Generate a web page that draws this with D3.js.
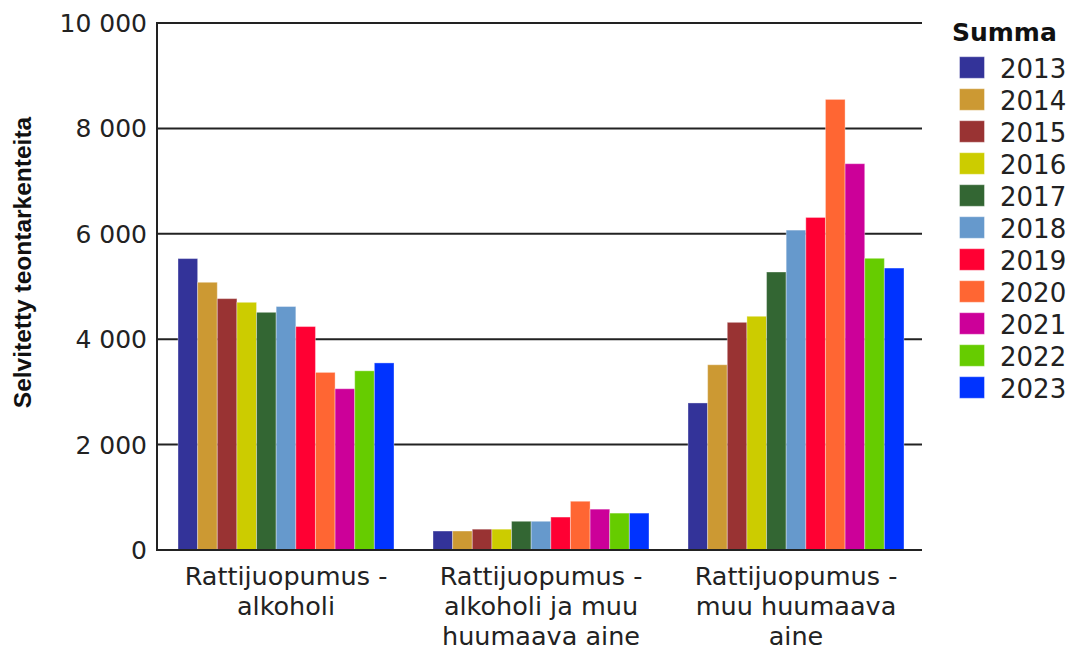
<!DOCTYPE html>
<html>
<head>
<meta charset="utf-8">
<script src="https://cdn.jsdelivr.net/npm/d3@7"></script>
<style>
  html, body { margin: 0; padding: 0; background: #fff; }
  svg { display: block; }
</style>
</head>
<body>
<svg id="chart" width="1074" height="650"></svg>
<script>
// Offence categories (x axis), split over three lines each
const categories = [
  "Rattijuopumus - alkoholi",
  "Rattijuopumus - alkoholi ja muu huumaava aine",
  "Rattijuopumus - muu huumaava aine"
];
const categoryLines = [
  ["Rattijuopumus -", "alkoholi"],
  ["Rattijuopumus -", "alkoholi ja muu", "huumaava aine"],
  ["Rattijuopumus -", "muu huumaava", "aine"]
];

// Years (series)
const years = ["2013", "2014", "2015", "2016", "2017", "2018", "2019", "2020", "2021", "2022", "2023"];
const yearColors = ["#333399", "#cc9933", "#993333", "#cccc00", "#336633", "#6699cc",
                    "#ff0033", "#ff6633", "#cc0099", "#66cc00", "#0033ff"];

// Solved offences per category, one value per year
const alkoholi       = [5530, 5080, 4770, 4700, 4510, 4620, 4240, 3370, 3060, 3400, 3550];
const alkoholiJaMuu  = [360, 360, 395, 395, 545, 545, 625, 925, 775, 700, 700];
const muuHuumaava    = [2790, 3515, 4320, 4435, 5275, 6070, 6310, 8550, 7330, 5535, 5350];
const seriesByCategory = [alkoholi, alkoholiJaMuu, muuHuumaava];

const yTicks = [0, 2000, 4000, 6000, 8000, 10000];

const svg = d3.select("#chart");
const plot = { left: 157, right: 922, top: 23, bottom: 550 };

const y = d3.scaleLinear().domain([0, 10000]).range([plot.bottom, plot.top]);
const x0 = d3.scaleBand().domain(categories)
  .range([plot.left + 1.5, plot.right + 1.5])
  .paddingInner(0.153)
  .paddingOuter(0.0765);
const x1 = d3.scaleBand().domain(years).range([0, x0.bandwidth()]).padding(0);
const color = d3.scaleOrdinal().domain(years).range(yearColors);

const fmt = d3.formatLocale({ decimal: ",", thousands: "\u00a0", grouping: [3], currency: ["", "€"] }).format(",d");

// Horizontal gridlines
svg.append("g")
  .selectAll("line")
  .data(yTicks.filter(d => d > 0))
  .join("line")
  .attr("x1", plot.left)
  .attr("x2", plot.right)
  .attr("y1", d => y(d))
  .attr("y2", d => y(d))
  .attr("stroke", "#222")
  .attr("stroke-width", 2);

// Bars
const groups = svg.append("g")
  .selectAll("g")
  .data(categories)
  .join("g")
  .attr("transform", d => `translate(${x0(d)},0)`);

groups.selectAll("rect")
  .data((d, i) => years.map((yr, j) => ({ year: yr, value: seriesByCategory[i][j] })))
  .join("rect")
  .attr("x", d => x1(d.year))
  .attr("width", x1.bandwidth())
  .attr("y", d => y(d.value))
  .attr("height", d => y(0) - y(d.value))
  .attr("fill", d => color(d.year))
  .attr("stroke", "rgba(255,255,255,0.35)")
  .attr("stroke-width", 1);

// Axis lines
svg.append("line")
  .attr("x1", plot.left).attr("x2", plot.left)
  .attr("y1", plot.top - 1).attr("y2", plot.bottom + 1)
  .attr("stroke", "#222").attr("stroke-width", 2);
svg.append("line")
  .attr("x1", plot.left - 1).attr("x2", plot.right)
  .attr("y1", plot.bottom).attr("y2", plot.bottom)
  .attr("stroke", "#222").attr("stroke-width", 2);

// Y tick labels
svg.append("g")
  .selectAll("text")
  .data(yTicks)
  .join("text")
  .attr("x", plot.left - 10)
  .attr("y", d => y(d))
  .attr("dy", "0.36em")
  .attr("text-anchor", "end")
  .attr("font-family", "DejaVu Sans, Verdana, sans-serif")
  .attr("font-size", 25)
  .attr("fill", "#222")
  .text(d => fmt(d));

// Y axis title
svg.append("text")
  .attr("transform", `translate(31,${(117 + 408) / 2}) rotate(-90)`)
  .attr("text-anchor", "middle")
  .attr("font-family", "Liberation Sans, Arial, sans-serif")
  .attr("font-weight", "bold")
  .attr("font-size", 24.5)
  .attr("fill", "#111")
  .text("Selvitetty teontarkenteita");

// Category labels
const catLabels = svg.append("g")
  .selectAll("text")
  .data(categories)
  .join("text")
  .attr("text-anchor", "middle")
  .attr("font-family", "DejaVu Sans, Verdana, sans-serif")
  .attr("font-size", 25.5)
  .attr("fill", "#222");
catLabels.selectAll("tspan")
  .data((d, i) => categoryLines[i].map(line => ({ line, cx: x0(d) + x0.bandwidth() / 2 })))
  .join("tspan")
  .attr("x", d => d.cx)
  .attr("y", (d, i) => 585 + i * 30)
  .text(d => d.line);

// Legend
const legend = svg.append("g");
legend.append("text")
  .attr("x", 952)
  .attr("y", 41)
  .attr("font-family", "DejaVu Sans, Verdana, sans-serif")
  .attr("font-weight", "bold")
  .attr("font-size", 25)
  .attr("fill", "#111")
  .text("Summa");

const items = legend.selectAll("g.item")
  .data(years)
  .join("g")
  .attr("class", "item")
  .attr("transform", (d, i) => `translate(0,${56.7 + i * 32})`);
items.append("rect")
  .attr("x", 959.5)
  .attr("y", 0)
  .attr("width", 25)
  .attr("height", 21.6)
  .attr("fill", d => color(d))
  .attr("stroke", "rgba(255,255,255,0.4)")
  .attr("stroke-width", 1);
items.append("text")
  .attr("x", 1000)
  .attr("y", 21.6)
  .attr("font-family", "DejaVu Sans, Verdana, sans-serif")
  .attr("font-size", 26)
  .attr("fill", "#222")
  .text(d => d);
</script>
</body>
</html>
